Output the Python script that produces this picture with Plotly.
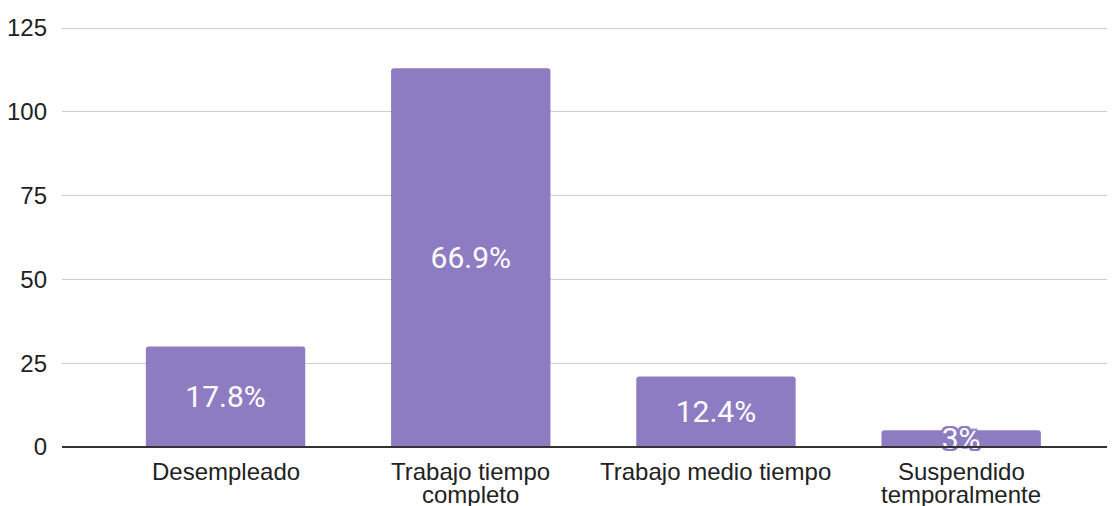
import plotly.graph_objects as go

categories = ["Desempleado", "Trabajo tiempo\ncompleto", "Trabajo medio tiempo", "Suspendido\ntemporalmente"]
values = [30, 113, 21, 5]
labels = ["17.8%", "66.9%", "12.4%", "3%"]
tick_vals = [0, 25, 50, 75, 100, 125]

color = "#8e7cc3"
outline = ", ".join(f"{dx}px {dy}px 0 {color}" for dx, dy in
                    [(-2, 0), (2, 0), (0, -2), (0, 2), (-2, -2), (2, 2), (-2, 2), (2, -2)])

fig = go.Figure(go.Bar(
    x=list(range(len(categories))),
    y=values,
    text=labels,
    textposition="inside",
    insidetextanchor="middle",
    constraintext="none",
    cliponaxis=False,
    textangle=0,
    textfont=dict(family="Roboto", size=30, color="white", shadow=outline),
    marker=dict(color=color, line=dict(width=0)),
    width=0.65,
    hoverinfo="skip",
))

annotations = []
for i, cat in enumerate(categories):
    for j, line in enumerate(cat.split("\n")):
        annotations.append(dict(
            x=i, xref="x", y=0, yref="paper",
            text=line, showarrow=False,
            xanchor="center", yanchor="middle",
            yshift=-24 - 23 * j,
            font=dict(family="Liberation Sans, Arial", size=24, color="#222222"),
        ))

# page body has an 8px margin; compensate so the plot lands where the reference has it
fig.update_layout(
    width=1115, height=506,
    margin=dict(l=54, r=0, t=19, b=67, autoexpand=False),
    paper_bgcolor="white", plot_bgcolor="white",
    barcornerradius=3,
    showlegend=False,
    font=dict(family="Liberation Sans, Arial", size=24, color="#222222"),
    xaxis=dict(
        range=[-0.667, 3.660],
        showgrid=False, zeroline=False, showline=False,
        showticklabels=False, ticks="", automargin=False,
    ),
    yaxis=dict(
        range=[0, 125.3],
        tickvals=tick_vals,
        showgrid=True, gridcolor="#cccccc", gridwidth=1,
        zeroline=False, showline=False, ticks="", automargin=False,
        tickfont=dict(size=24, color="#222222"),
        ticklabelstandoff=14,
    ),
    annotations=annotations,
    shapes=[dict(type="line", xref="paper", yref="paper", x0=0, x1=1, y0=0, y1=0,
                 line=dict(color="#333333", width=2), layer="above")],
)

fig.write_html("out.html")
